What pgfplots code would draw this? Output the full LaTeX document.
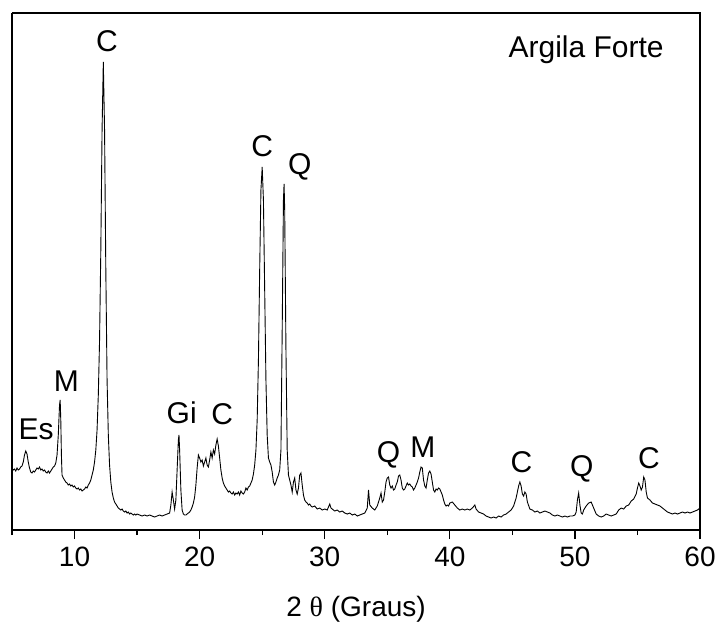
\documentclass[border=0pt]{standalone}
\usepackage{fontspec}
\setmainfont{Liberation Sans}
\newfontfamily\symfont{Liberation Serif}
\usepackage{pgfplots}
\pgfplotsset{compat=1.18}
\usetikzlibrary{calc}

\begin{document}
\begin{tikzpicture}
\begin{axis}[
  scale only axis,
  width=344pt, height=258.5pt,
  xmin=5, xmax=60, ymin=0, ymax=517,
  xtick={10,20,30,40,50,60},
  minor xtick={5,15,25,35,45,55},
  ytick=\empty,
  axis x line*=bottom, axis y line*=left,
  tick align=outside,
  major tick length=4.5pt, minor tick length=2.6pt,
  tick style={black, line width=0.6pt},
  axis line style={line width=0.7pt},
  every outer x axis line/.append style={-},
  every outer y axis line/.append style={-},
  /pgf/number format/assume math mode=true,
  ticklabel style={font=\fontsize{14}{16}\selectfont, inner sep=0pt},
  xticklabel style={yshift=-4pt},
  xlabel={2 {\symfont θ} (Graus)},
  xlabel style={font=\fontsize{14}{16}\selectfont, inner sep=0pt,
    at={(axis description cs:0.5,0)}, anchor=base, yshift=-43pt},
  clip=false,
]
\draw[line width=0.7pt] (rel axis cs:0,1) -- (rel axis cs:1,1) -- (rel axis cs:1,0);
\addplot[black, line width=0.45pt] coordinates {
(5.0,62) (5.1,60) (5.2,61) (5.3,59) (5.4,62) (5.5,60) (5.6,61) (5.7,63) (5.8,64) (5.9,68)
(6.0,75) (6.1,79) (6.2,76) (6.3,68) (6.4,62) (6.5,58) (6.6,57) (6.7,59) (6.8,58) (6.9,60)
(7.0,62) (7.1,61) (7.2,63) (7.3,60) (7.4,61) (7.5,59) (7.6,60) (7.7,58) (7.8,57) (7.9,59)
(8.0,57) (8.1,59) (8.2,61) (8.3,63) (8.4,64) (8.5,67) (8.6,75) (8.7,95) (8.8,125) (8.85,130)
(8.9,110) (8.95,75) (9.0,55) (9.1,52) (9.2,50) (9.3,48) (9.4,47) (9.5,45) (9.6,46) (9.7,44)
(9.8,45) (9.9,43) (10.0,44) (10.1,42) (10.2,41) (10.3,42) (10.4,40) (10.5,41) (10.6,39) (10.7,40)
(10.8,41) (10.9,43) (11.0,42) (11.1,45) (11.2,47) (11.3,50) (11.4,55) (11.5,60) (11.6,68) (11.7,80)
(11.8,100) (11.9,135) (12.0,190) (12.1,280) (12.2,400) (12.3,468) (12.4,400) (12.5,260) (12.6,150) (12.7,95)
(12.8,65) (12.9,48) (13.0,38) (13.1,32) (13.2,28) (13.3,26) (13.4,24) (13.5,22) (13.6,21) (13.7,20)
(13.8,21) (13.9,19) (14.0,18) (14.1,19) (14.2,17) (14.3,18) (14.4,16) (14.5,17) (14.6,16) (14.7,15)
(14.8,16) (14.9,15) (15.0,16) (15.2,15) (15.4,14) (15.6,15) (15.8,14) (16.0,15) (16.2,14) (16.4,13)
(16.6,14) (16.8,15) (17.0,14) (17.2,15) (17.4,16) (17.6,17) (17.7,25) (17.8,38) (17.9,30) (18.0,21)
(18.1,30) (18.2,60) (18.3,90) (18.35,95) (18.4,80) (18.5,40) (18.6,20) (18.7,16) (18.8,15) (18.9,15)
(19.0,16) (19.1,17) (19.2,18) (19.3,20) (19.4,23) (19.5,27) (19.6,33) (19.7,45) (19.8,62) (19.9,75)
(20.0,72) (20.1,68) (20.2,70) (20.3,64) (20.4,68) (20.5,72) (20.6,65) (20.7,63) (20.8,70) (20.9,78)
(21.0,72) (21.1,80) (21.2,76) (21.3,85) (21.4,91) (21.5,84) (21.6,72) (21.7,60) (21.8,52) (21.9,47)
(22.0,44) (22.1,42) (22.2,40) (22.3,38) (22.4,39) (22.5,37) (22.6,36) (22.7,38) (22.8,35) (22.9,37)
(23.0,36) (23.1,38) (23.2,35) (23.3,39) (23.4,37) (23.5,36) (23.6,38) (23.7,42) (23.8,40) (23.9,43)
(24.0,44) (24.1,47) (24.2,50) (24.3,56) (24.4,65) (24.5,80) (24.6,110) (24.7,170) (24.8,260) (24.9,340)
(25.0,363) (25.1,330) (25.2,240) (25.3,150) (25.4,95) (25.5,72) (25.6,68) (25.7,65) (25.8,58) (25.9,48)
(26.0,45) (26.1,48) (26.2,52) (26.3,55) (26.4,60) (26.5,80) (26.6,200) (26.7,330) (26.75,346) (26.8,320)
(26.9,180) (27.0,80) (27.1,55) (27.2,50) (27.3,45) (27.4,38) (27.5,48) (27.6,52) (27.7,40) (27.8,36)
(27.9,42) (28.0,55) (28.1,57) (28.2,45) (28.3,35) (28.4,30) (28.5,28) (28.6,27) (28.7,25) (28.8,26)
(28.9,24) (29.0,23) (29.2,24) (29.4,21) (29.6,22) (29.8,20) (30.0,21) (30.2,20) (30.4,26) (30.5,22)
(30.6,21) (30.8,19) (31.0,20) (31.2,18) (31.4,19) (31.6,17) (31.8,16) (32.0,17) (32.2,15) (32.4,16)
(32.6,14) (32.8,15) (33.0,16) (33.2,17) (33.4,22) (33.5,40) (33.6,25) (33.8,22) (34.0,20) (34.2,24)
(34.4,32) (34.5,37) (34.6,28) (34.7,30) (34.8,38) (34.9,48) (35.0,52) (35.1,53) (35.2,45) (35.3,42)
(35.4,44) (35.5,40) (35.6,41) (35.7,45) (35.8,48) (35.9,54) (36.0,55) (36.1,50) (36.2,42) (36.3,40)
(36.4,41) (36.5,44) (36.6,47) (36.7,45) (36.8,46) (36.9,44) (37.0,43) (37.1,40) (37.2,42) (37.3,45)
(37.4,48) (37.5,52) (37.6,58) (37.7,63) (37.8,62) (37.9,50) (38.0,44) (38.1,42) (38.2,50) (38.3,57)
(38.4,59) (38.5,56) (38.6,48) (38.7,40) (38.8,38) (38.9,41) (39.0,40) (39.1,42) (39.2,41) (39.3,38)
(39.4,35) (39.5,30) (39.6,26) (39.7,24) (39.8,25) (39.9,24) (40.0,27) (40.2,28) (40.4,25) (40.6,22)
(40.8,20) (41.0,21) (41.2,20) (41.4,21) (41.6,20) (41.8,22) (42.0,25) (42.1,21) (42.3,18) (42.5,17)
(42.7,16) (42.9,14) (43.1,13) (43.3,12) (43.5,13) (43.7,12) (43.9,14) (44.1,13) (44.3,15) (44.5,16)
(44.7,18) (44.9,20) (45.1,24) (45.3,32) (45.5,44) (45.6,48) (45.7,44) (45.8,36) (45.9,34) (46.0,38)
(46.1,36) (46.2,28) (46.4,21) (46.6,20) (46.8,18) (47.0,19) (47.2,17) (47.4,18) (47.6,19) (47.8,18)
(48.0,17) (48.2,15) (48.4,14) (48.6,15) (48.8,14) (49.0,13) (49.2,14) (49.4,13) (49.6,14) (49.8,14)
(50.0,15) (50.1,18) (50.2,30) (50.3,37) (50.4,25) (50.5,17) (50.6,16) (50.7,20) (50.9,24) (51.1,27)
(51.3,28) (51.5,22) (51.7,16) (51.9,14) (52.1,13) (52.3,14) (52.5,16) (52.7,15) (52.9,14) (53.1,15)
(53.3,16) (53.5,20) (53.7,22) (53.9,21) (54.1,24) (54.3,25) (54.5,29) (54.7,31) (54.9,36) (55.0,42)
(55.1,47) (55.2,44) (55.3,40) (55.4,43) (55.5,53) (55.6,50) (55.7,38) (55.8,32) (56.0,30) (56.2,27)
(56.4,26) (56.6,25) (56.8,24) (57.0,22) (57.2,20) (57.4,18) (57.6,17) (57.8,16) (58.0,17) (58.2,16)
(58.4,17) (58.6,18) (58.8,17) (59.0,18) (59.2,17) (59.4,18) (59.6,19) (59.8,20) (60.0,22)
};
\begin{scope}[every node/.style={font=\fontsize{15}{17}\selectfont, inner sep=0pt}]
\node at (axis cs:12.6,489) {C};
\node at (axis cs:50.9,480) {Argila Forte};
\node at (axis cs:25.0,384) {C};
\node at (axis cs:28.0,363) {Q};
\node at (axis cs:9.34,149) {M};
\node at (axis cs:6.93,101) {Es};
\node at (axis cs:18.57,117) {Gi};
\node at (axis cs:21.8,116) {C};
\node at (axis cs:35.1,75) {Q};
\node at (axis cs:37.85,83) {M};
\node at (axis cs:45.72,68) {C};
\node at (axis cs:50.54,61) {Q};
\node at (axis cs:55.92,72) {C};
\end{scope}
\end{axis}
\path ($(current axis.south west)+(-6pt,-46.5pt)$) rectangle ($(current axis.north east)+(9.5pt,6.5pt)$);
\end{tikzpicture}
\end{document}
